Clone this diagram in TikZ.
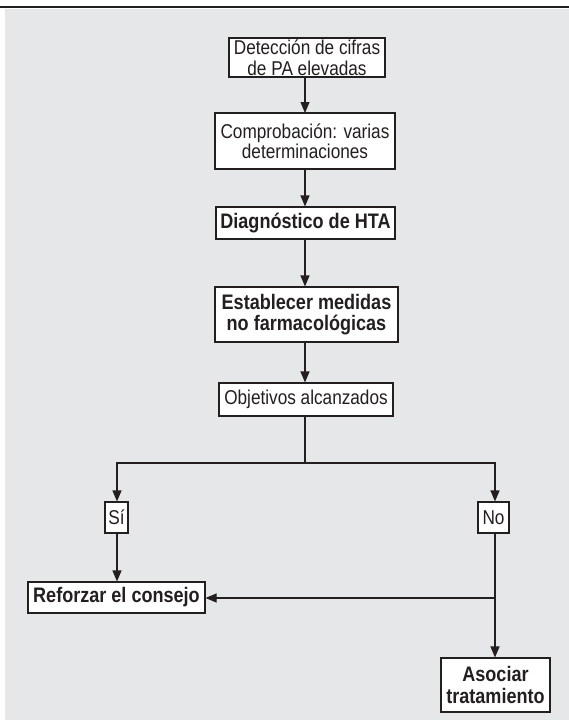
\documentclass[tikz,border=0pt]{standalone}
\usepackage{fontspec}
\setmainfont{Liberation Sans}[FakeStretch=0.86]
\usetikzlibrary{arrows.meta}
\definecolor{panel}{HTML}{E6E7E8}
\definecolor{ink}{HTML}{231F20}
\begin{document}
\begin{tikzpicture}[x=1pt,y=-1pt,
  box/.style={draw=ink, fill=white, line width=1.1pt, inner sep=0pt, align=center,
    text=ink},
  plain/.style={box, font=\fontsize{20}{20.5}\selectfont},
  strong/.style={box, font=\fontsize{21}{21.5}\selectfont\bfseries},
  flow/.style={draw=ink, line width=1.1pt, -{Triangle[length=11pt,width=9pt]}},
  link/.style={draw=ink, line width=1.1pt}]
  % page and panel
  \useasboundingbox (0,0) rectangle (569,720);
  \fill[white] (0,0) rectangle (569,720);
  \fill[panel] (5,9) rectangle (569,720);
  \draw[ink, line width=1.5pt] (0,7) -- (569,7);

  % boxes
  \node[plain, minimum width=156pt, minimum height=39pt] (det) at (307,57.5)
    {Detección de cifras\\de PA elevadas};
  \node[plain, minimum width=180pt, minimum height=56pt] (comp) at (305,141)
    {Comprobación: varias\\determinaciones};
  \node[strong, minimum width=179pt, minimum height=32pt] (diag) at (305.5,223)
    {Diagnóstico de HTA};
  \node[strong, minimum width=183pt, minimum height=55pt] (est) at (306.5,314.5)
    {Establecer medidas\\no farmacológicas};
  \node[plain, minimum width=174pt, minimum height=33pt] (obj) at (306,399.5)
    {Objetivos alcanzados};
  \node[plain, minimum width=23pt, minimum height=31pt] (si) at (116.5,517.5) {Sí};
  \node[plain, minimum width=31pt, minimum height=31pt] (no) at (493.5,517.5) {No};
  \node[strong, minimum width=177pt, minimum height=31pt] (ref) at (116.5,597.5)
    {Reforzar el consejo};
  \node[strong, minimum width=109pt, minimum height=54pt] (aso) at (495.5,685)
    {Asociar\\tratamiento};

  % branch points
  \coordinate (split) at (305,463);
  \coordinate (back) at (495,598);

  % connectors
  \draw[flow] (305,77) -- (305,113);
  \draw[flow] (comp.south -| 305,0) -- (diag.north -| 305,0);
  \draw[flow] (diag.south -| 305,0) -- (est.north -| 305,0);
  \draw[flow] (est.south -| 305,0) -- (obj.north -| 305,0);
  \draw[link] (obj.south -| split) -- (split);
  \draw[flow] (split) -| (si.north -| 117,0);
  \draw[flow] (split) -| (no.north -| back);
  \draw[flow] (si.south -| 117,0) -- (ref.north -| 117,0);
  \draw[link] (no.south -| back) -- (back);
  \draw[flow] (back) -- (ref.east |- back);
  \draw[flow] (back) -- (aso.north -| back);
\end{tikzpicture}
\end{document}
